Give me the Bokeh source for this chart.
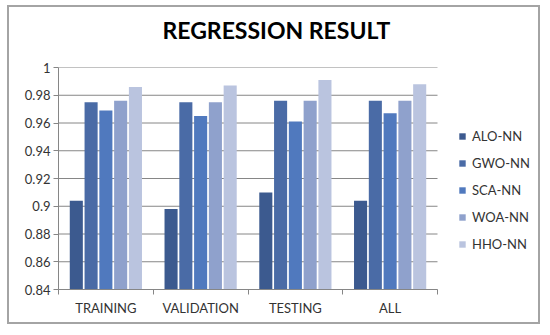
from bokeh.plotting import figure
from bokeh.models import FixedTicker, Legend, LegendItem, Range1d, Title
from bokeh.embed import file_html
from bokeh.resources import INLINE

categories = ["TRAINING", "VALIDATION", "TESTING", "ALL"]
series_names = ["ALO-NN", "GWO-NN", "SCA-NN", "WOA-NN", "HHO-NN"]
alo = [0.904, 0.898, 0.910, 0.904]
gwo = [0.975, 0.975, 0.976, 0.976]
sca = [0.969, 0.965, 0.961, 0.967]
woa = [0.976, 0.975, 0.976, 0.976]
hho = [0.986, 0.987, 0.991, 0.988]
series_values = [alo, gwo, sca, woa, hho]
colors = ["#3c5a8f", "#4a6ba6", "#5079be", "#8fa1cc", "#bac4df"]
y_ticks = [0.84, 0.86, 0.88, 0.9, 0.92, 0.94, 0.96, 0.98, 1.0]
y_labels = ["0.84", "0.86", "0.88", "0.9", "0.92", "0.94", "0.96", "0.98", "1"]
title_text = "REGRESSION RESULT"

FONT = "Lato"
n = len(categories)
# plotting frame also hosts the legend on its right; bars occupy [0, n]
x_end = n * 484 / 379

p = figure(width=533, height=319, output_backend="svg", toolbar_location=None,
           x_range=Range1d(0, x_end), y_range=Range1d(0.84, 1.0),
           min_border_left=49, min_border_right=0, min_border_top=60,
           min_border_bottom=37, title=None)
p.styles = {"border": "2px solid #a4a4a4", "position": "relative",
            "left": "7px", "top": "5px"}
p.outline_line_color = None
p.background_fill_color = "white"
p.border_fill_color = "white"

# spacer (closest to the frame), then the main title above it
p.add_layout(Title(text=" ", text_font_size="10px", standoff=6), "above")
p.add_layout(Title(text=title_text, align="left", offset=104, standoff=10,
                   text_font=FONT, text_font_size="23px",
                   text_font_style="bold", text_color="black"), "above")

# horizontal gridlines limited to the category area
p.segment(x0=[0] * len(y_ticks), x1=[n] * len(y_ticks), y0=y_ticks, y1=y_ticks,
          line_color="#868686", line_width=1)

slot = 0.156
items = []
for i, (name, vals, col) in enumerate(zip(series_names, series_values, colors)):
    xs = [c + 0.5 + (i - 2) * slot for c in range(n)]
    r = p.vbar(x=xs, top=vals, bottom=0.84, width=0.138, fill_color=col,
               line_color=None)
    items.append(LegendItem(label=name, renderers=[r]))

# x axis
p.xaxis.bounds = (0, n)
p.xaxis.ticker = FixedTicker(ticks=[c + 0.5 for c in range(n)],
                             minor_ticks=list(range(n + 1)))
p.xaxis.major_label_overrides = {c + 0.5: lab for c, lab in enumerate(categories)}
p.xaxis.major_tick_line_color = None
p.xaxis.minor_tick_out = 5
p.xaxis.minor_tick_in = 0
p.xaxis.minor_tick_line_color = "#868686"
p.xaxis.axis_line_color = "#868686"
p.xaxis.major_label_text_font = FONT
p.xaxis.major_label_text_font_size = "13px"
p.xaxis.major_label_text_color = "#333333"
p.xaxis.major_label_standoff = 4
p.xgrid.grid_line_color = None
p.ygrid.grid_line_color = None

# y axis
p.yaxis.ticker = FixedTicker(ticks=y_ticks)
p.yaxis.major_label_overrides = dict(zip(y_ticks, y_labels))
p.yaxis.axis_line_color = "#868686"
p.yaxis.major_tick_line_color = "#868686"
p.yaxis.major_tick_out = 5
p.yaxis.major_tick_in = 0
p.yaxis.minor_tick_line_color = None
p.yaxis.major_label_text_font = FONT
p.yaxis.major_label_text_font_size = "13px"
p.yaxis.major_label_text_color = "#333333"
p.yaxis.major_label_standoff = 3

legend = Legend(items=items, location=(400, 35), padding=0, margin=0,
                spacing=7, label_height=20, glyph_height=8, glyph_width=8,
                label_standoff=6, border_line_color=None,
                background_fill_alpha=0, label_text_font=FONT,
                label_text_font_size="13px", label_text_color="#333333")
p.add_layout(legend, "center")

open("out.html", "w").write(file_html(p, INLINE))
